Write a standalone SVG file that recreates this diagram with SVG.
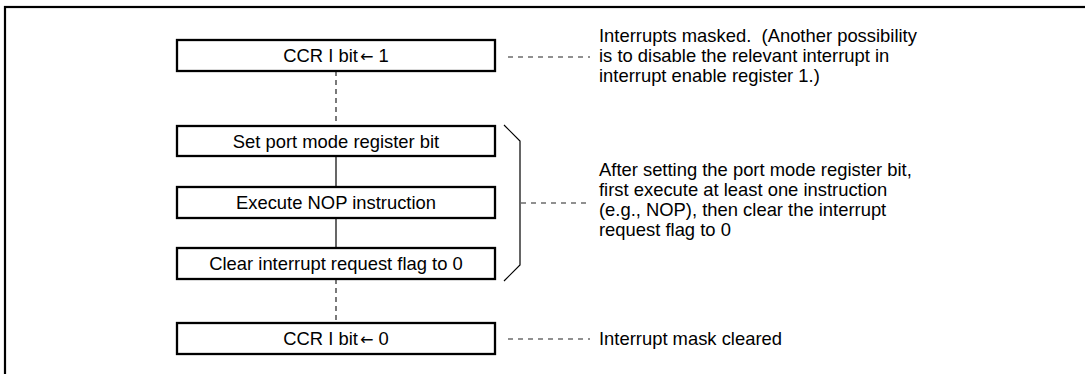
<svg xmlns="http://www.w3.org/2000/svg" width="1085" height="374" viewBox="0 0 1085 374">
<style>
.box{fill:#fff;stroke:#000;stroke-width:2.3}
.t{font-family:"Liberation Sans",Arial,sans-serif;font-size:18.4px;fill:#000}
.c{text-anchor:middle}
.ar{font-family:"DejaVu Sans",sans-serif;font-size:16px}
.solid{stroke:#000;stroke-width:1.2;fill:none}
.dash{stroke:#222;stroke-width:1.2;stroke-dasharray:5 4;fill:none}
.hdash{stroke:#222;stroke-width:1.2;stroke-dasharray:5 5;fill:none}
</style>
<rect x="0" y="0" width="1085" height="374" fill="#fff"/>
<rect x="5" y="7" width="1100" height="400" fill="none" stroke="#000" stroke-width="2.2"/>
<g id="connectors">
<line class="dash" x1="336" y1="71" x2="336" y2="126"/>
<line class="solid" x1="336" y1="156" x2="336" y2="187"/>
<line class="solid" x1="336" y1="218" x2="336" y2="248"/>
<line class="dash" x1="336" y1="279" x2="336" y2="323"/>
<line class="hdash" x1="508" y1="57" x2="590" y2="57"/>
<line class="hdash" x1="521" y1="203" x2="590" y2="203"/>
<line class="hdash" x1="508" y1="339" x2="590" y2="339"/>
<polyline class="solid" points="504,125 520,141 520,265 504,281"/>
</g>
<g id="n1"><rect class="box" x="177" y="40" width="318" height="31"/><text class="t c" x="336" y="62">CCR I bit<tspan class="ar" dx="2">←</tspan> 1</text></g>
<g id="n2"><rect class="box" x="177" y="126" width="318" height="30"/><text class="t c" x="336" y="148">Set port mode register bit</text></g>
<g id="n3"><rect class="box" x="177" y="187" width="318" height="31"/><text class="t c" x="336" y="209">Execute NOP instruction</text></g>
<g id="n4"><rect class="box" x="177" y="248" width="318" height="31"/><text class="t c" x="336" y="270">Clear interrupt request flag to 0</text></g>
<g id="n5"><rect class="box" x="177" y="323" width="318" height="31"/><text class="t c" x="336" y="345">CCR I bit<tspan class="ar" dx="2">←</tspan> 0</text></g>
<g id="note1"><text class="t" x="599"><tspan x="599" y="42">Interrupts masked.&#160; (Another possibility</tspan><tspan x="599" y="62">is to disable the relevant interrupt in</tspan><tspan x="599" y="82">interrupt enable register 1.)</tspan></text></g>
<g id="note2"><text class="t" x="599"><tspan x="599" y="176">After setting the port mode register bit,</tspan><tspan x="599" y="196">first execute at least one instruction</tspan><tspan x="599" y="216">(e.g., NOP), then clear the interrupt</tspan><tspan x="599" y="236">request flag to 0</tspan></text></g>
<g id="note3"><text class="t" x="599" y="345">Interrupt mask cleared</text></g>
</svg>
